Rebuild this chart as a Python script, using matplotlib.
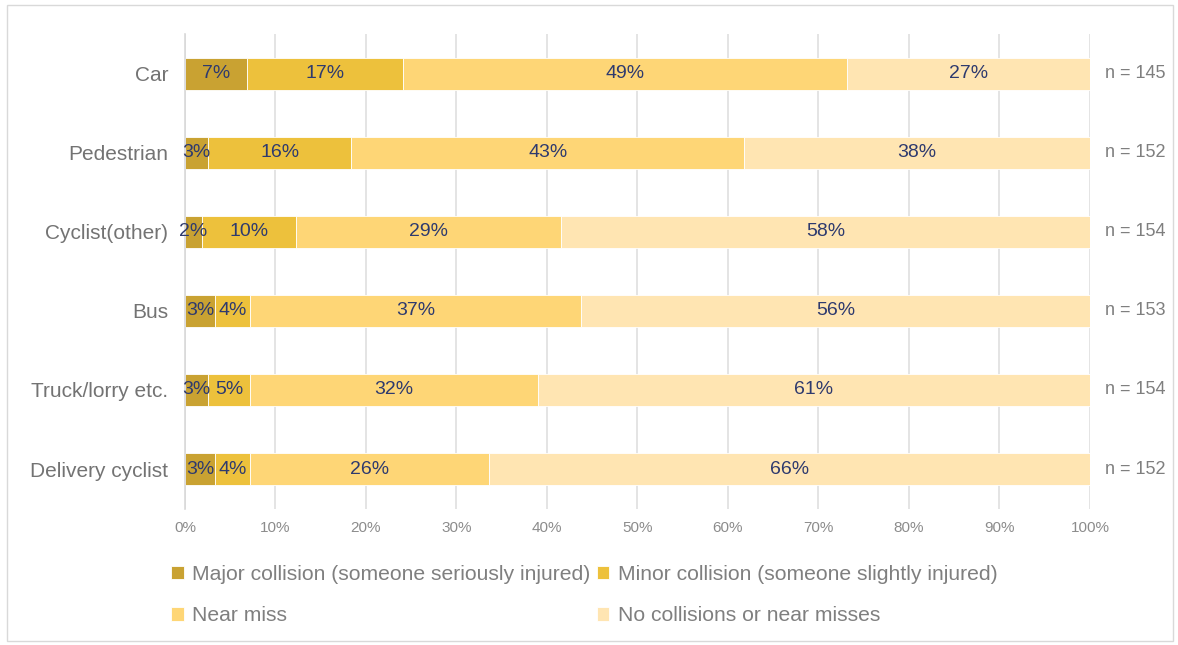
import matplotlib.pyplot as plt
import numpy as np
from matplotlib.patches import Rectangle

plt.rcParams['font.family'] = ['Liberation Sans', 'DejaVu Sans']

categories = ['Car', 'Pedestrian', 'Cyclist(other)', 'Bus', 'Truck/lorry etc.', 'Delivery cyclist']
major = [6.9, 2.6, 1.9, 3.3, 2.6, 3.3]
minor = [17.2, 15.8, 10.4, 3.9, 4.6, 3.9]
near_miss = [49.0, 43.4, 29.3, 36.6, 31.8, 26.4]
no_incident = [26.9, 38.2, 58.4, 56.2, 61.0, 66.4]
n_resp = [145, 152, 154, 153, 154, 152]

series = [
    ('Major collision (someone seriously injured)', major, '#C9A232'),
    ('Minor collision (someone slightly injured)', minor, '#EDC13C'),
    ('Near miss', near_miss, '#FED676'),
    ('No collisions or near misses', no_incident, '#FFE5B2'),
]

fig = plt.figure(figsize=(11.78, 6.45), dpi=100)
ax = fig.add_axes([0.157, 0.2116, 0.7683, 0.735])

y = np.arange(len(categories))
left = np.zeros(len(categories))
bars = {}
for name, vals, col in series:
    vals = np.array(vals)
    b = ax.barh(y, vals, left=left, height=0.41, color=col, edgecolor='white',
                linewidth=0.6, label=name, zorder=2)
    ax.bar_label(b, labels=[f'{v:.0f}%' for v in vals], label_type='center',
                 color='#2E3A6E', fontsize=14)
    bars[name] = b
    left += vals

ax.set_xlim(0, 100)
ax.set_ylim(len(categories) - 0.5, -0.5)
ax.set_yticks(y)
ax.set_yticklabels(categories, fontsize=15, color='#737373')
ax.set_xticks(np.arange(0, 101, 10))
ax.set_xticklabels([f'{t}%' for t in range(0, 101, 10)], fontsize=11, color='#8c8c8c')
ax.tick_params(length=0, pad=9)
ax.tick_params(axis='y', pad=12)
ax.grid(axis='x', color='#dcdcdc', linewidth=1.1, zorder=0)
for s in ['top', 'right', 'bottom']:
    ax.spines[s].set_visible(False)
ax.spines['left'].set_color('#d9d9d9')
ax.spines['left'].set_linewidth(1.2)

# sample sizes to the right of each bar
for yi, n in zip(y, n_resp):
    ax.text(1.0165, yi, f'n = {n}', transform=ax.get_yaxis_transform(),
            va='center', ha='left', fontsize=13, color='#7f7f7f')

handles = [bars[s[0]] for s in series]
order = [0, 2, 1, 3]
leg = fig.legend([handles[i] for i in order], [series[i][0] for i in order],
                 ncol=2, loc='upper left', bbox_to_anchor=(0.138, 0.137),
                 frameon=False, fontsize=15.2, labelcolor='#7f7f7f',
                 handlelength=0.6, handleheight=0.6, handletextpad=0.4,
                 columnspacing=0.3, labelspacing=1.05, borderaxespad=0)

fig.patches.append(Rectangle((0.006, 0.006), 0.99, 0.986, transform=fig.transFigure,
                             fill=False, edgecolor='#d9d9d9', linewidth=1))

plt.savefig('out.png', dpi=100)
